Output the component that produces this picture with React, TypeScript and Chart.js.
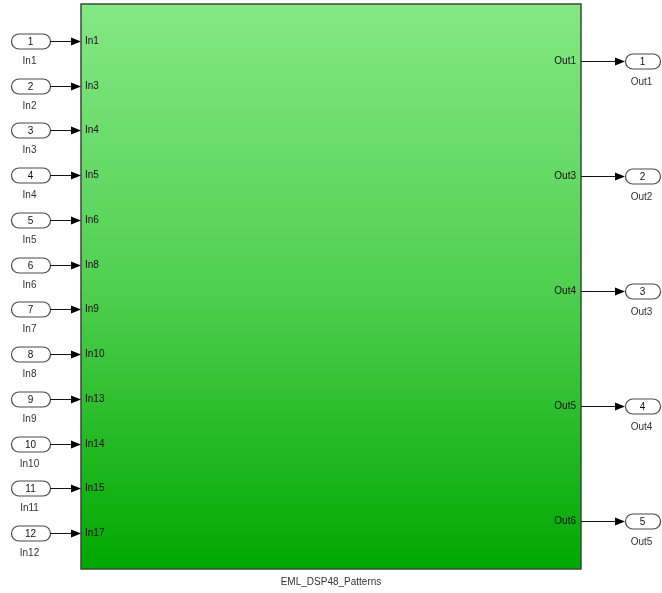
import React, { useEffect, useRef } from "react";
import { Chart, registerables } from "chart.js";
Chart.register(...registerables);

// ---- data ----
const inPortNumbers = ["1", "2", "3", "4", "5", "6", "7", "8", "9", "10", "11", "12"];
const inPortNames = ["In1", "In2", "In3", "In4", "In5", "In6", "In7", "In8", "In9", "In10", "In11", "In12"];
const blockInputs = ["In1", "In3", "In4", "In5", "In6", "In8", "In9", "In10", "In13", "In14", "In15", "In17"];
const outPortNumbers = ["1", "2", "3", "4", "5"];
const outPortNames = ["Out1", "Out2", "Out3", "Out4", "Out5"];
const blockOutputs = ["Out1", "Out3", "Out4", "Out5", "Out6"];
const blockName = "EML_DSP48_Patterns";

// ---- layout (in canvas units) ----
const W = 662;
const H = 593;
const BLOCK = { left: 81, right: 581, top: 4, bottom: 569 };
const IN_OVAL = { left: 11, right: 50 };
const OUT_OVAL = { left: 625, right: 660 };
const OVAL_H = 15;
const FONT = "10px 'Liberation Sans', Arial, sans-serif";

function roundRect(ctx: CanvasRenderingContext2D, x: number, y: number, w: number, h: number, r: number) {
  ctx.beginPath();
  ctx.moveTo(x + r, y);
  ctx.lineTo(x + w - r, y);
  ctx.arc(x + w - r, y + r, r, -Math.PI / 2, Math.PI / 2);
  ctx.lineTo(x + r, y + h);
  ctx.arc(x + r, y + r, r, Math.PI / 2, (3 * Math.PI) / 2);
  ctx.closePath();
}

function arrow(ctx: CanvasRenderingContext2D, x1: number, y: number, x2: number) {
  ctx.strokeStyle = "#111";
  ctx.fillStyle = "#000";
  ctx.lineWidth = 1;
  ctx.beginPath();
  ctx.moveTo(x1, y);
  ctx.lineTo(x2 - 6, y);
  ctx.stroke();
  ctx.beginPath();
  ctx.moveTo(x2, y);
  ctx.lineTo(x2 - 10, y - 4);
  ctx.lineTo(x2 - 10, y + 4);
  ctx.closePath();
  ctx.fill();
}

function port(ctx: CanvasRenderingContext2D, left: number, right: number, y: number, num: string, name: string, labelDy: number) {
  ctx.fillStyle = "#fff";
  ctx.strokeStyle = "#4a4a4a";
  ctx.lineWidth = 1.2;
  roundRect(ctx, left + 0.5, y - OVAL_H / 2, right - left, OVAL_H, OVAL_H / 2);
  ctx.fill();
  ctx.stroke();
  ctx.fillStyle = "#111";
  ctx.font = FONT;
  ctx.textAlign = "center";
  ctx.textBaseline = "middle";
  const cx = (left + right) / 2;
  ctx.fillText(num, cx, y + 0.5);
  ctx.fillStyle = "#333";
  ctx.fillText(name, cx - 1, y + labelDy);
}

const diagramPlugin = {
  id: "diagram",
  beforeDatasetsDraw(chart: any) {
    const ctx: CanvasRenderingContext2D = chart.ctx;
    const xs = chart.scales.x;
    const yp = chart.scales.yPx;
    const yIn = chart.scales.yIn;
    const yOut = chart.scales.yOut;
    const bl = xs.getPixelForValue(BLOCK.left);
    const br = xs.getPixelForValue(BLOCK.right);
    const bt = yp.getPixelForValue(BLOCK.top);
    const bb = yp.getPixelForValue(BLOCK.bottom);

    ctx.save();
    ctx.fillStyle = "#fff";
    ctx.fillRect(0, 0, chart.width, chart.height);

    // block
    const g = ctx.createLinearGradient(0, bt, 0, bb);
    g.addColorStop(0, "#84e884");
    g.addColorStop(0.5, "#50d050");
    g.addColorStop(1, "#00a800");
    ctx.fillStyle = g;
    ctx.fillRect(bl, bt, br - bl, bb - bt);
    ctx.strokeStyle = "#3a4a3a";
    ctx.lineWidth = 1.5;
    ctx.strokeRect(bl, bt, br - bl, bb - bt);

    // block name
    ctx.fillStyle = "#333";
    ctx.font = FONT;
    ctx.textAlign = "center";
    ctx.textBaseline = "middle";
    ctx.fillText(blockName, (bl + br) / 2, bb + 13);

    // inputs
    const inMeta = chart.getDatasetMeta(0);
    inMeta.data.forEach((pt: any, i: number) => {
      const y = Math.round(yIn.getPixelForValue(i)) + 0.5;
      const l = xs.getPixelForValue(IN_OVAL.left);
      const r = xs.getPixelForValue(IN_OVAL.right);
      port(ctx, l, r, y, inPortNumbers[i], inPortNames[i], 20);
      arrow(ctx, r, y, bl);
      ctx.fillStyle = "#111";
      ctx.font = FONT;
      ctx.textAlign = "left";
      ctx.textBaseline = "middle";
      ctx.fillText(blockInputs[i], bl + 4, y);
    });

    // outputs
    const outMeta = chart.getDatasetMeta(1);
    outMeta.data.forEach((pt: any, i: number) => {
      const y = Math.round(yOut.getPixelForValue(i)) + 0.5;
      const l = xs.getPixelForValue(OUT_OVAL.left);
      const r = xs.getPixelForValue(OUT_OVAL.right);
      arrow(ctx, br, y, l);
      port(ctx, l, r, y, outPortNumbers[i], outPortNames[i], 21);
      ctx.fillStyle = "#111";
      ctx.font = FONT;
      ctx.textAlign = "right";
      ctx.textBaseline = "middle";
      ctx.fillText(blockOutputs[i], br - 5, y);
    });
    ctx.restore();
  },
};

// scale ranges so port index i maps to its row
const IN_FIRST = 41, IN_LAST = 533;
const OUT_FIRST = 61, OUT_LAST = 521;
const inUnit = (IN_LAST - IN_FIRST) / (inPortNumbers.length - 1);
const outUnit = (OUT_LAST - OUT_FIRST) / (outPortNumbers.length - 1);

export default function App() {
  const ref = useRef<HTMLCanvasElement>(null);
  useEffect(() => {
    document.body.style.margin = "0";
    document.body.style.overflow = "hidden";
    const chart = new Chart(ref.current!, {
      type: "scatter",
      data: {
        datasets: [
          {
            label: "inputs",
            data: inPortNumbers.map((_, i) => ({ x: (IN_OVAL.left + IN_OVAL.right) / 2, y: i })),
            yAxisID: "yIn",
            pointRadius: 0,
          },
          {
            label: "outputs",
            data: outPortNumbers.map((_, i) => ({ x: (OUT_OVAL.left + OUT_OVAL.right) / 2, y: i })),
            yAxisID: "yOut",
            pointRadius: 0,
          },
        ],
      },
      options: {
        responsive: false,
        animation: false,
        events: [],
        layout: { padding: 0 },
        plugins: { legend: { display: false }, tooltip: { enabled: false } },
        scales: {
          x: { type: "linear", min: 0, max: W, display: false },
          yPx: { type: "linear", axis: "y", min: 0, max: H, reverse: true, display: false },
          yIn: {
            type: "linear",
            axis: "y",
            min: -IN_FIRST / inUnit,
            max: (H - IN_FIRST) / inUnit,
            reverse: true,
            display: false,
          },
          yOut: {
            type: "linear",
            axis: "y",
            min: -OUT_FIRST / outUnit,
            max: (H - OUT_FIRST) / outUnit,
            reverse: true,
            display: false,
          },
        },
      } as any,
      plugins: [diagramPlugin],
    });
    return () => chart.destroy();
  }, []);
  return (
    <div style={{ width: W, height: H }}>
      <canvas ref={ref} width={W} height={H} style={{ display: "block" }} />
    </div>
  );
}
